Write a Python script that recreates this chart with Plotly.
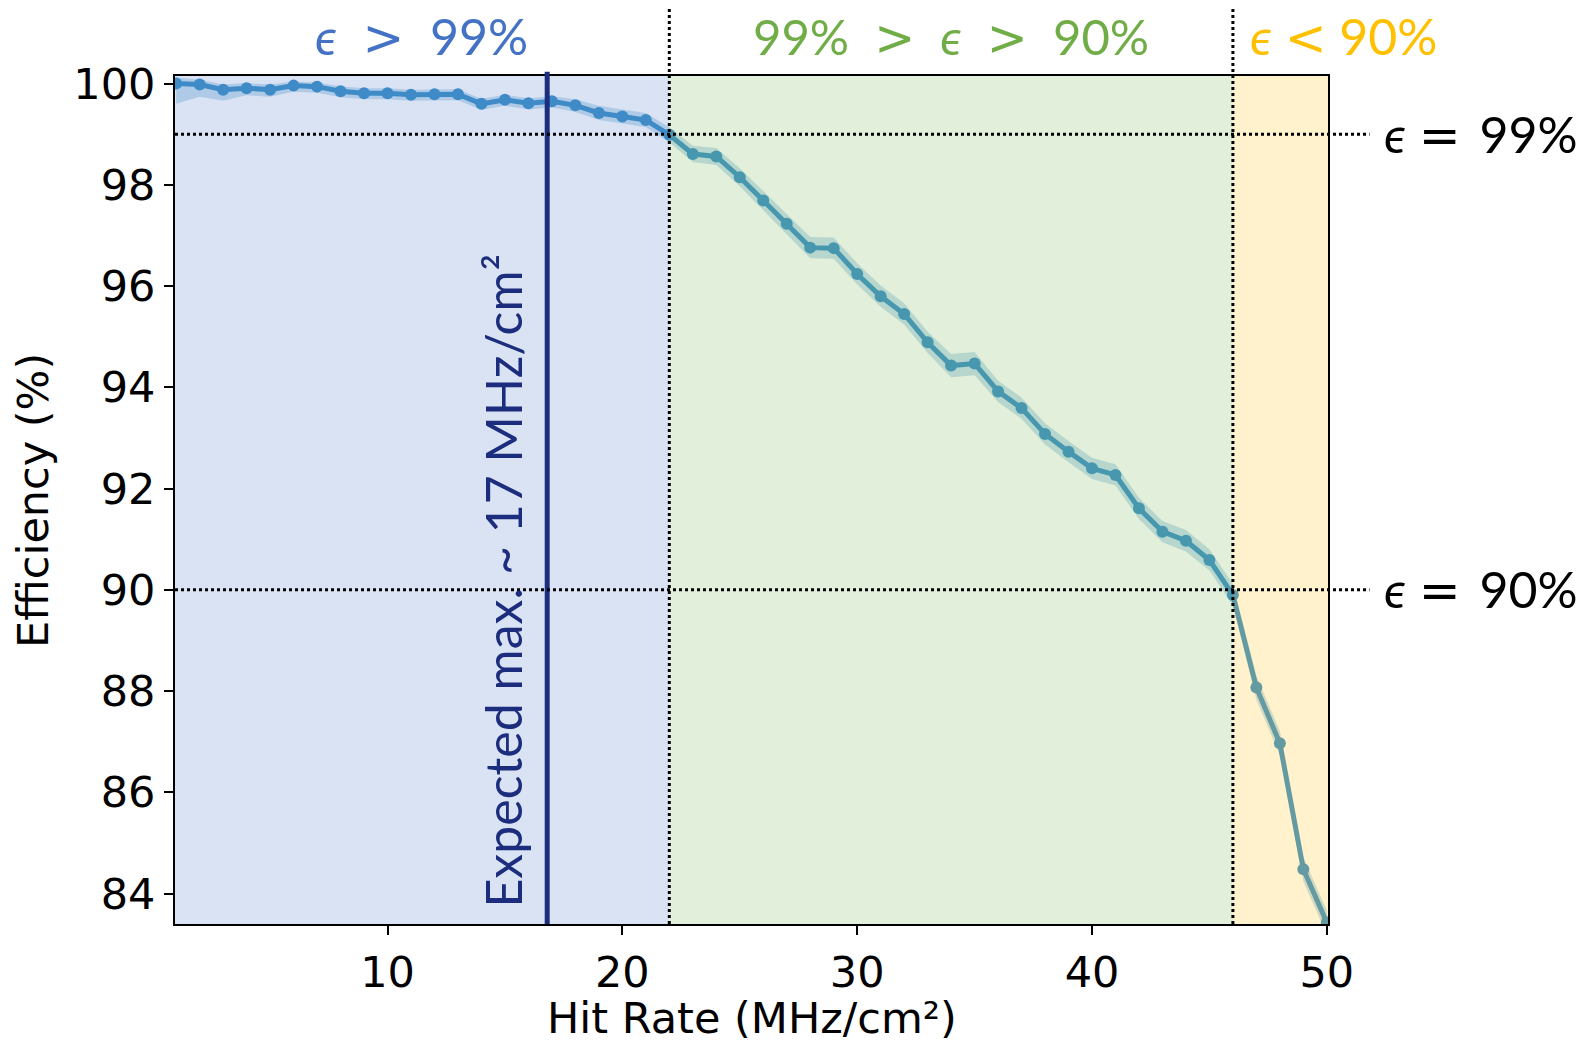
import plotly.graph_objects as go

hit_rate = list(range(1, 51))
efficiency = [100.0, 99.98, 99.88, 99.91, 99.88, 99.96, 99.94, 99.85, 99.81, 99.81,
              99.78, 99.79, 99.79, 99.60, 99.68, 99.61, 99.65, 99.57, 99.42, 99.35,
              99.28, 98.99, 98.61, 98.56, 98.15, 97.69, 97.23, 96.76, 96.75, 96.24,
              95.80, 95.45, 94.89, 94.43, 94.47, 93.92, 93.59, 93.08, 92.73, 92.40,
              92.27, 91.61, 91.15, 90.97, 90.59, 89.90, 88.07, 86.97, 84.48, 83.43]
err_lo = [0.40, 0.24, 0.22, 0.14, 0.14, 0.12, 0.12, 0.12, 0.12, 0.12,
          0.12, 0.12, 0.12, 0.12, 0.12, 0.12, 0.12, 0.13, 0.14, 0.14,
          0.14, 0.15, 0.16, 0.17, 0.18, 0.19, 0.20, 0.21, 0.21, 0.21,
          0.21, 0.21, 0.21, 0.23, 0.23, 0.21, 0.21, 0.21, 0.21, 0.21,
          0.21, 0.21, 0.21, 0.21, 0.21, 0.21, 0.24, 0.24, 0.24, 0.24]
err_hi = [0.12, 0.10, 0.10, 0.10, 0.10, 0.08, 0.08, 0.10, 0.10, 0.10,
          0.10, 0.10, 0.10, 0.10, 0.10, 0.10, 0.10, 0.12, 0.14, 0.14,
          0.14, 0.15, 0.16, 0.17, 0.18, 0.19, 0.20, 0.21, 0.21, 0.21,
          0.21, 0.21, 0.21, 0.23, 0.23, 0.21, 0.21, 0.21, 0.21, 0.21,
          0.21, 0.21, 0.21, 0.21, 0.21, 0.21, 0.24, 0.24, 0.24, 0.24]

x_ticks = [10, 20, 30, 40, 50]
y_ticks = [84, 86, 88, 90, 92, 94, 96, 98, 100]

eff_99 = 99.0
eff_90 = 90.0
rate_99 = 22
rate_90 = 46
rate_expected = 16.8
x_min, x_max = 0.95, 50.05
y_min, y_max = 83.4, 100.15

upper = [e + h for e, h in zip(efficiency, err_hi)]
lower = [e - l for e, l in zip(efficiency, err_lo)]

line_col = "#2182c2"
fig = go.Figure()
fig.add_trace(go.Scatter(x=hit_rate, y=upper, mode="lines", line=dict(width=0),
                         showlegend=False, hoverinfo="skip"))
fig.add_trace(go.Scatter(x=hit_rate, y=lower, mode="lines", line=dict(width=0),
                         fill="tonexty", fillcolor="rgba(33,130,194,0.28)",
                         showlegend=False, hoverinfo="skip"))
fig.add_trace(go.Scatter(x=hit_rate, y=efficiency, mode="lines+markers",
                         line=dict(color=line_col, width=5),
                         marker=dict(color=line_col, size=12),
                         showlegend=False))

shapes = []
for x0, x1, col in [(x_min, rate_99, "rgb(132,162,215)"),
                    (rate_99, rate_90, "rgb(158,202,132)"),
                    (rate_90, x_max, "rgb(255,212,85)")]:
    shapes.append(dict(type="rect", xref="x", yref="paper", x0=x0, x1=x1, y0=0, y1=1,
                       fillcolor=col, opacity=0.3, line=dict(width=0), layer="above"))
shapes.append(dict(type="line", xref="x", yref="paper", x0=rate_expected, x1=rate_expected,
                   y0=0, y1=1.005, line=dict(color="#1c2d7e", width=5), layer="above"))
for yv in [eff_99, eff_90]:
    shapes.append(dict(type="line", xref="paper", yref="y", x0=0, x1=1.036, y0=yv, y1=yv,
                       line=dict(color="black", width=3, dash="dot"), layer="above"))
for xv in [rate_99, rate_90]:
    shapes.append(dict(type="line", xref="x", yref="paper", x0=xv, x1=xv, y0=0, y1=1.082,
                       line=dict(color="black", width=3, dash="dot"), layer="above"))

ann_font = "Lato, DejaVu Sans, sans-serif"
SYM = "<span style='font-family:DejaVu Sans'>%s</span>"
EPS = "<i>ϵ</i>"
sp = "&nbsp;"
thin = "&#8201;"
gt = SYM % "&gt;"
lt = SYM % "&lt;"
eq = SYM % "="
annotations = [
    dict(text=f"{EPS}{sp} {gt} {sp}99%", xref="x", yref="paper", x=11.45, y=1.046,
         showarrow=False, font=dict(family=ann_font, size=50, color="#4472c4"),
         xanchor="center", yanchor="middle"),
    dict(text=f"99%{sp} {gt} {sp}{EPS}{sp} {gt} {sp}90%", xref="x", yref="paper", x=34.0,
         y=1.046, showarrow=False, font=dict(family=ann_font, size=49, color="#70ad47"),
         xanchor="center", yanchor="middle"),
    dict(text=f"{EPS} {lt} 90%", xref="x", yref="paper", x=46.65, y=1.046, showarrow=False,
         font=dict(family=ann_font, size=50, color="#ffc000"), xanchor="left", yanchor="middle"),
    dict(text=f"{EPS} {eq} {thin}99%", xref="paper", yref="y", x=1.0470, y=eff_99,
         showarrow=False, font=dict(family=ann_font, size=50, color="black"),
         xanchor="left", yanchor="middle"),
    dict(text=f"{EPS} {eq} {thin}90%", xref="paper", yref="y", x=1.0470, y=eff_90,
         showarrow=False, font=dict(family=ann_font, size=50, color="black"),
         xanchor="left", yanchor="middle"),
    dict(text="Expected max. ~ 17 MHz/cm²", xref="x", yref="paper", x=14.9, y=0.4045,
         showarrow=False, textangle=-90,
         font=dict(family=ann_font, size=50, color="#1c2d7e"), xanchor="center", yanchor="middle"),
    dict(text="Efficiency (%)", xref="paper", yref="paper", x=-0.1232, y=0.5, showarrow=False,
         textangle=-90, font=dict(family="DejaVu Sans", size=43, color="black"),
         xanchor="center", yanchor="middle"),
    dict(text="Hit Rate (MHz/cm²)", xref="paper", yref="paper", x=0.5, y=-0.1108,
         showarrow=False, font=dict(family="DejaVu Sans", size=43, color="black"),
         xanchor="center", yanchor="middle"),
]

fig.update_layout(
    width=1584, height=1042,
    margin=dict(l=175, r=256, t=76, b=118),
    paper_bgcolor="white", plot_bgcolor="white",
    shapes=shapes, annotations=annotations,
    font=dict(family="DejaVu Sans", size=43, color="black"),
)
fig.update_xaxes(range=[x_min, x_max], tickvals=x_ticks, ticks="outside", ticklen=9,
                 tickwidth=2, tickcolor="black", showline=True, linecolor="black",
                 linewidth=2, mirror=True, showgrid=False, zeroline=False,
                 tickfont=dict(family="DejaVu Sans", size=43, color="black"))
fig.update_yaxes(range=[y_min, y_max], tickvals=y_ticks, ticks="outside", ticklen=9,
                 tickwidth=2, tickcolor="black", showline=True, linecolor="black",
                 linewidth=2, mirror=True, showgrid=False, zeroline=False,
                 tickfont=dict(family="DejaVu Sans", size=43, color="black"))

fig.write_html("out.html")
